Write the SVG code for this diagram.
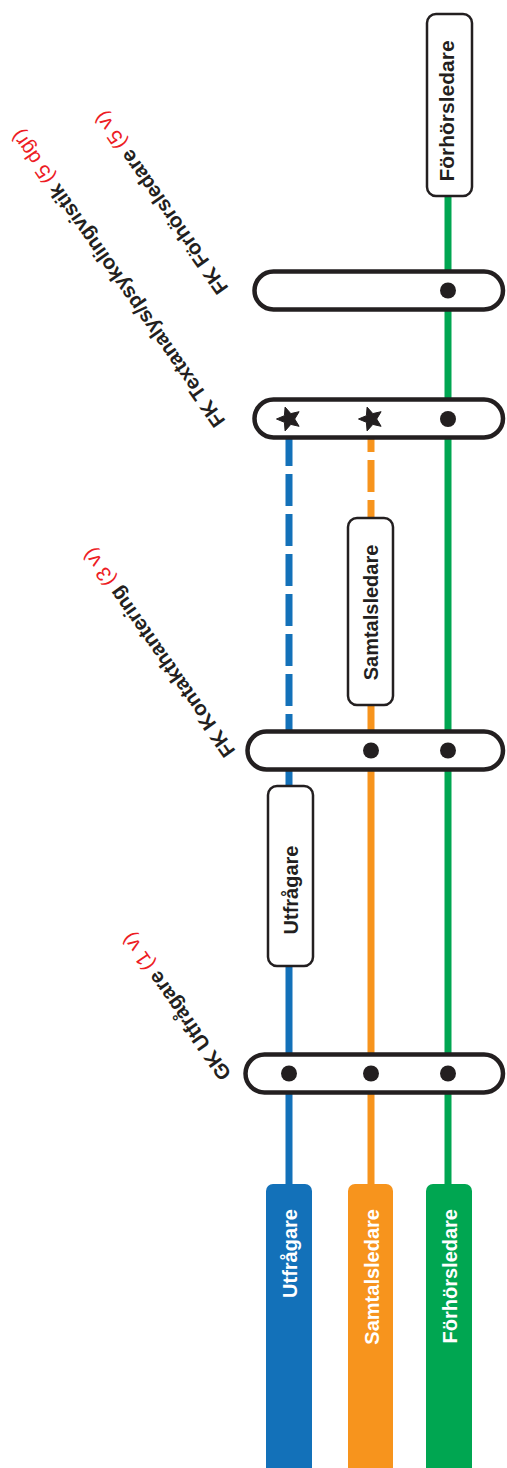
<svg xmlns="http://www.w3.org/2000/svg" width="507" height="1468" viewBox="0 0 507 1468">
<style>
.ln{fill:none;stroke-width:7}
.b{stroke:#1371b9}.o{stroke:#f7941d}.g{stroke:#00a651}
.pill{fill:#fff;stroke:#231f20;stroke-width:4.5}
.box{fill:#fff;stroke:#231f20;stroke-width:2.5}
.dot{fill:#231f20}
.bt{font-family:"Liberation Sans",Arial,sans-serif;font-weight:bold;font-size:20px;fill:#231f20}
.wt{font-family:"Liberation Sans",Arial,sans-serif;font-weight:bold;font-size:20px;fill:#fff}
.lbl{font-family:"Liberation Sans",Arial,sans-serif;font-weight:bold;font-size:20.5px;fill:#231f20}
.red{font-weight:normal;fill:#ed1c24}
</style>
<defs>
<polygon id="star" points="-12.5,0 -4.6,-3.3 -3.9,-11.9 1.8,-5.4 10.1,-7.3 5.7,0 10.1,7.3 1.8,5.4 -3.9,11.9 -4.6,3.3" fill="#231f20" stroke="#231f20" stroke-width="1" stroke-linejoin="round"/>
</defs>
<g id="connectors">
<path class="ln b" d="M289,420 V750" stroke-dasharray="32 8" stroke-dashoffset="26"/>
<path class="ln b" d="M289,750 V1190"/>
<path class="ln o" d="M371,420 V517" stroke-dasharray="32 8"/>
<path class="ln o" d="M371,706 V1190"/>
<path class="ln g" d="M448,197 V1190"/>
</g>
<g id="line-utfragare">
<rect x="266" y="1184" width="46" height="290" rx="7" fill="#1371b9"/>
<text class="wt" transform="translate(297,1209) rotate(-90)" text-anchor="end">Utfrågare</text>
</g>
<g id="line-samtalsledare">
<rect x="348" y="1184" width="45" height="290" rx="7" fill="#f7941d"/>
<text class="wt" transform="translate(378.5,1209) rotate(-90)" text-anchor="end">Samtalsledare</text>
</g>
<g id="line-forhorsledare">
<rect x="426" y="1184" width="46" height="290" rx="7" fill="#00a651"/>
<text class="wt" transform="translate(457,1209) rotate(-90)" text-anchor="end">Förhörsledare</text>
</g>
<g id="start-forhorsledare">
<rect class="box" x="427" y="14" width="45" height="182" rx="9"/>
<text class="bt" transform="translate(454,111) rotate(-90)" text-anchor="middle" style="font-size:21px">Förhörsledare</text>
</g>
<g id="start-samtalsledare">
<rect class="box" x="348" y="518" width="45" height="187" rx="9"/>
<text class="bt" transform="translate(377.5,612.5) rotate(-90)" text-anchor="middle">Samtalsledare</text>
</g>
<g id="start-utfragare">
<rect class="box" x="268" y="786" width="45" height="180" rx="9"/>
<text class="bt" transform="translate(297.5,890) rotate(-90)" text-anchor="middle">Utfrågare</text>
</g>
<g id="station-fk-forhorsledare">
<rect class="pill" x="254.5" y="271.5" width="248.5" height="38" rx="19"/>
<circle class="dot" cx="448" cy="290.5" r="8"/>
<text class="lbl" transform="translate(229,288) rotate(-125)">FK Förhörsledare <tspan class="red">(5 v)</tspan></text>
</g>
<g id="station-fk-textanalys">
<rect class="pill" x="254.5" y="399.5" width="248.5" height="38" rx="19"/>
<use href="#star" x="289" y="419"/>
<use href="#star" x="371" y="419"/>
<circle class="dot" cx="448" cy="419" r="8"/>
<text class="lbl" transform="translate(226,421) rotate(-125)">FK Textanalys/psykolingvistik <tspan class="red">(5 dgr)</tspan></text>
</g>
<g id="station-fk-kontakthantering">
<rect class="pill" x="247.5" y="731.5" width="255.5" height="38" rx="19"/>
<circle class="dot" cx="371" cy="750.5" r="8"/>
<circle class="dot" cx="448" cy="750.5" r="8"/>
<text class="lbl" transform="translate(236,751) rotate(-125)">FK Kontakthantering <tspan class="red">(3 v)</tspan></text>
</g>
<g id="station-gk-utfragare">
<rect class="pill" x="245.5" y="1054.5" width="257.5" height="38" rx="19"/>
<circle class="dot" cx="289" cy="1073.5" r="8"/>
<circle class="dot" cx="371" cy="1073.5" r="8"/>
<circle class="dot" cx="448" cy="1073.5" r="8"/>
<text class="lbl" transform="translate(232,1074) rotate(-125)">GK Utfrågare <tspan class="red">(1 v)</tspan></text>
</g>
</svg>
